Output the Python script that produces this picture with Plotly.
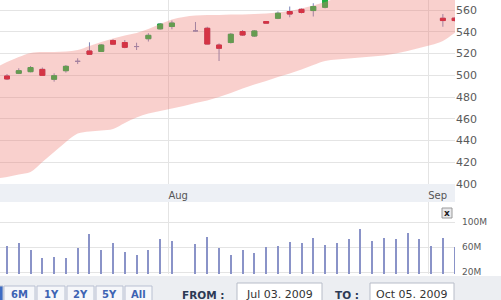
import plotly.graph_objects as go

W, H = 501, 300

# ---------------- data ----------------
# trading-day slots (slot 15 is an empty slot in the source chart)
slot_dates = ["Jul 14", "Jul 15", "Jul 16", "Jul 17", "Jul 20", "Jul 21", "Jul 22", "Jul 23",
              "Jul 24", "Jul 27", "Jul 28", "Jul 29", "Jul 30", "Jul 31", "Aug 03", "",
              "Aug 04", "Aug 05", "Aug 06", "Aug 07", "Aug 10", "Aug 11", "Aug 12", "Aug 13",
              "Aug 14", "Aug 17", "Aug 18", "Aug 19", "Aug 20", "Aug 21", "Aug 24", "Aug 25",
              "Aug 26", "Aug 27", "Aug 28", "Aug 31", "Sep 01", "Sep 02", "Sep 03"]

opens = [499.3, 501.8, 503.3, 505.4, 496.3, 504.2, 512.8, 522.3, 521.9, 531.9, 530.1, 526.4,
         533.6, 542.7, 544.8, None, 540.8, 543.2, 527.8, 530.1, 540.2, 536.1, 549.4, 552.4,
         558.6, 560.6, 559.5, 562.5, 573.0, 577.0, 580.0, 578.5, 582.0, 585.0, 581.0, 576.5,
         578.0, 552.4, 552.5]
highs = [501.1, 506.4, 508.5, 507.1, 501.8, 509.4, 515.6, 530.3, 528.7, 533.1, 532.4, 529.9,
         538.7, 548.0, 550.3, None, 549.0, 544.6, 529.3, 538.9, 541.6, 541.6, 549.6, 558.6,
         563.2, 561.4, 566.2, 574.0, 578.0, 581.0, 585.0, 583.0, 587.0, 588.0, 584.0, 580.0,
         579.5, 556.3, 553.0]
lows = [495.6, 501.1, 502.7, 499.3, 494.1, 502.4, 510.3, 519.0, 521.4, 527.8, 524.8, 523.2,
        531.0, 542.0, 542.3, None, 540.2, 528.5, 513.1, 529.2, 536.1, 535.2, 547.7, 551.6,
        553.3, 556.8, 554.0, 561.5, 571.5, 574.0, 576.0, 575.5, 579.0, 580.0, 574.0, 572.0,
        571.0, 544.6, 549.5]
closes = [496.6, 504.2, 507.1, 499.9, 499.6, 508.2, 512.8, 519.3, 527.8, 528.6, 525.7, 526.4,
          536.7, 547.1, 548.0, None, 540.8, 528.7, 524.8, 537.7, 537.0, 540.7, 547.9, 557.0,
          556.3, 557.7, 563.2, 572.0, 576.5, 579.5, 578.0, 582.0, 585.5, 581.5, 576.0, 578.5,
          572.5, 550.3, 550.3]
volumes_m = [61.6, 66.9, 55.2, 42.9, 44.5, 41.9, 58.9, 80.8, 55.2, 66.9, 52.5, 47.2,
             55.2, 72.3, 70.1, None, 64.8, 75.5, 57.9, 47.2, 55.2, 49.9, 60.5, 62.1,
             68.5, 65.9, 73.9, 63.2, 65.9, 72.3, 88.8, 70.1, 73.9, 72.3, 82.9, 72.3,
             62.1, 73.9, 60.0]

band_slots = list(range(-1, 40))
band_upper = [506.7, 512.2, 516.8, 520.5, 521.4, 521.4, 521.8, 523.2, 526.9, 530.6, 533.8,
              536.6, 538.9, 542.5, 547.1, 551.3, 553.6, 554.9, 555.4, 555.4, 555.9, 555.9,
              556.3, 556.8, 557.7, 559.1, 561.4, 564.1, 567.4, 571.0, 574.0, 577.0, 579.0,
              581.0, 583.0, 584.0, 585.0, 585.0, 585.0, 585.0, 585.0]
band_lower = [405.0, 406.4, 408.7, 411.0, 420.2, 429.4, 438.6, 446.4, 448.3, 449.2, 450.6,
              456.1, 461.1, 464.8, 467.1, 469.4, 471.7, 474.5, 476.8, 480.0, 483.7, 487.8,
              491.5, 494.7, 498.4, 501.6, 505.3, 509.4, 513.1, 514.5, 515.4, 516.3, 517.2,
              518.2, 520.0, 522.3, 525.0, 527.8, 531.5, 538.9, 545.0]

price_ticks = [400, 420, 440, 460, 480, 500, 520, 540, 560]
vol_ticks = [20, 60, 100]
vol_tick_labels = ["20M", "60M", "100M"]
month_ticks = [13.7, 35.75]
month_labels = ["Aug", "Sep"]
range_buttons = ["1M", "6M", "1Y", "2Y", "5Y", "All"]
from_label, to_label = "FROM :", "TO :"
from_date, to_date = "Jul 03. 2009", "Oct 05. 2009"

# ---------------- styling ----------------
UP, DOWN, WICK = "#1db040", "#c8102e", "#7c86b8"
BAND = "rgba(238,121,112,0.35)"
VOL = "#8a93c8"
GRID = "#e4e4e4"
FONT = "DejaVu Sans"

def px(x):
    return x / W

def py(y):
    return 1 - y / H

slots = list(range(len(opens)))

# body-only arrays (doji and empty slots carry no body)
b_open, b_close, b_high, b_low = [], [], [], []
for o, c in zip(opens, closes):
    if o is None or o == c:
        b_open.append(None); b_close.append(None); b_high.append(None); b_low.append(None)
    else:
        b_open.append(o); b_close.append(c); b_high.append(max(o, c)); b_low.append(min(o, c))

fig = go.Figure()

fig.add_trace(go.Scatter(x=band_slots, y=band_lower, mode="lines",
                         line=dict(width=0, shape="spline"), hoverinfo="skip",
                         showlegend=False))
fig.add_trace(go.Scatter(x=band_slots, y=band_upper, mode="lines", fill="tonexty",
                         fillcolor=BAND, line=dict(width=0, shape="spline"),
                         hoverinfo="skip", showlegend=False))

fig.add_trace(go.Candlestick(x=slots, open=opens, high=highs, low=lows, close=closes,
                             increasing=dict(line=dict(color=WICK, width=1), fillcolor=WICK),
                             decreasing=dict(line=dict(color=WICK, width=1), fillcolor=WICK),
                             whiskerwidth=0, showlegend=False))
fig.add_trace(go.Candlestick(x=slots, open=b_open, high=b_high, low=b_low, close=b_close,
                             increasing=dict(line=dict(color=UP, width=1), fillcolor=UP),
                             decreasing=dict(line=dict(color=DOWN, width=1), fillcolor=DOWN),
                             whiskerwidth=0, showlegend=False))

fig.add_trace(go.Bar(x=slots, y=volumes_m, width=0.17, marker=dict(color=VOL, line=dict(width=0)),
                     xaxis="x2", yaxis="y2", showlegend=False))

x_range = [(0 - 7) / 11.78, (455 - 7) / 11.78]

shapes = []
# gray category band under the price panel
shapes.append(dict(type="rect", xref="paper", yref="paper", x0=px(0), x1=px(455),
                   y0=py(202), y1=py(184), fillcolor="#edf0f5", line=dict(width=0), layer="below"))
# bottom control strip
shapes.append(dict(type="rect", xref="paper", yref="paper", x0=0, x1=1,
                   y0=py(300), y1=py(276), fillcolor="#eceef2", line=dict(width=0), layer="below"))

annotations = []

def label(x, y, text, size, color):
    annotations.append(dict(xref="paper", yref="paper", x=px(x), y=py(y), text=text,
                            showarrow=False, xanchor="center", yanchor="middle",
                            font=dict(size=size, color=color, family=FONT)))

btn_x = [(-28, 3), (4, 35), (37, 65), (67, 94), (96, 123), (125, 152)]
for i, (lab, (a, b)) in enumerate(zip(range_buttons, btn_x)):
    sel = i == 0
    shapes.append(dict(type="rect", xref="paper", yref="paper", x0=px(a), x1=px(b),
                       y0=py(306), y1=py(286), fillcolor="#3d6cc4" if sel else "#f6f7fa",
                       line=dict(color="#b9c0d2", width=1)))
    label((a + b) / 2, 294, f"<b>{lab}</b>", 10, "#ffffff" if sel else "#3d63b3")

label(203, 294.5, f"<b>{from_label}</b>", 10.5, "#2c3a55")
label(347, 294.5, f"<b>{to_label}</b>", 10.5, "#2c3a55")
for (a, b), txt in [((237, 322), from_date), ((370, 454), to_date)]:
    shapes.append(dict(type="rect", xref="paper", yref="paper", x0=px(a), x1=px(b),
                       y0=py(306), y1=py(283), fillcolor="#ffffff",
                       line=dict(color="#b7bcc8", width=1)))
    label((a + b) / 2, 294, txt, 11, "#333333")

# close button on the volume panel
shapes.append(dict(type="rect", xref="paper", yref="paper", x0=px(442), x1=px(452),
                   y0=py(218), y1=py(208), fillcolor="#e9e9ec", line=dict(color="#9a9a9a", width=1)))
label(447, 212.5, "<b>x</b>", 9, "#222222")

fig.update_layout(
    width=W, height=H, margin=dict(l=0, r=0, t=0, b=0, pad=0, autoexpand=False),
    paper_bgcolor="#ffffff", plot_bgcolor="rgba(0,0,0,0)",
    font=dict(family=FONT), boxgap=0.4, bargap=0, showlegend=False,
    shapes=shapes, annotations=annotations,
    xaxis=dict(domain=[0, px(455)], range=x_range, anchor="y", tickvals=month_ticks,
               ticktext=month_labels, ticklabelposition="outside right", ticks="",
               showgrid=True, gridcolor=GRID, zeroline=False, showline=False,
               tickfont=dict(size=10, color="#555555"), ticklabelstandoff=4,
               rangeslider=dict(visible=False), fixedrange=True, automargin=False),
    yaxis=dict(domain=[py(184), 1], range=[400, 569.2], side="right", tickvals=price_ticks,
               ticks="", showgrid=True, gridcolor=GRID, zeroline=False,
               tickfont=dict(size=11, color="#5a5a5a"), fixedrange=True, automargin=False),
    xaxis2=dict(domain=[0, px(455)], range=x_range, anchor="y2", tickvals=month_ticks,
                showticklabels=False, ticks="", showgrid=True, gridcolor=GRID,
                zeroline=False, fixedrange=True, automargin=False),
    yaxis2=dict(domain=[py(274), py(202)], range=[16.8, 132], side="right", tickvals=vol_ticks,
                ticktext=vol_tick_labels, ticks="", showgrid=True, gridcolor=GRID,
                zeroline=False, tickfont=dict(size=9, color="#5a5a5a"), fixedrange=True,
                ticklabelstandoff=6, automargin=False),
)

fig.write_html("out.html")
